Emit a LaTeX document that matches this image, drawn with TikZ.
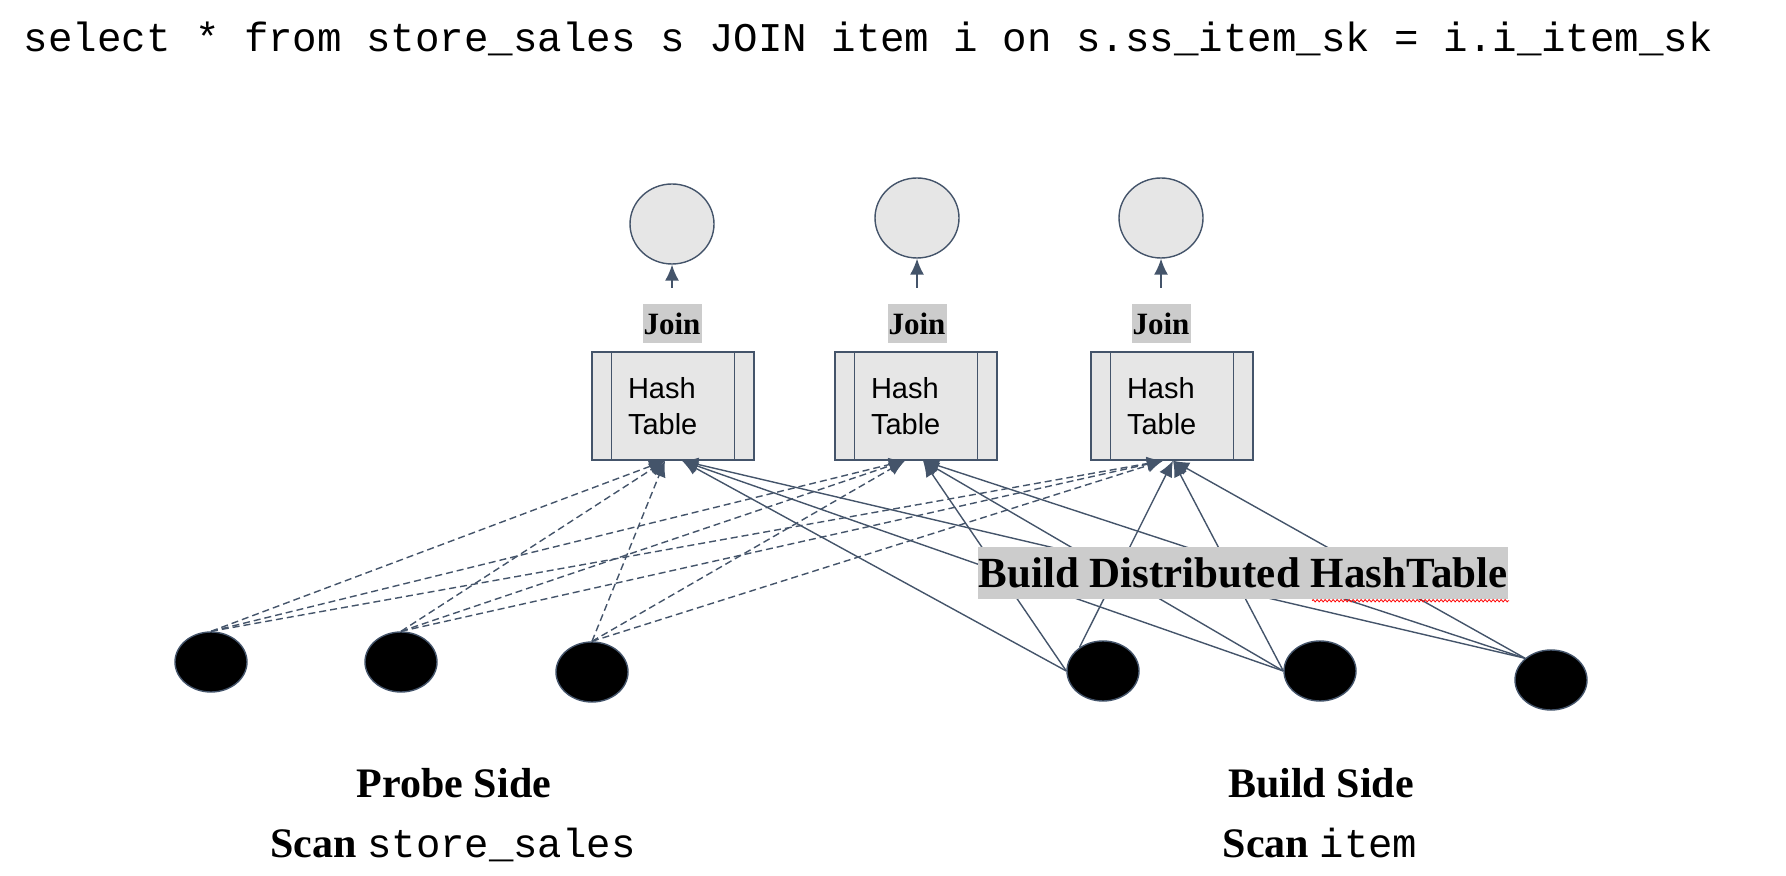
\documentclass[tikz,border=0pt]{standalone}
\usepackage{fontspec}
\setmainfont{Liberation Serif}
\setsansfont{Liberation Sans}
\setmonofont{Liberation Mono}
\usetikzlibrary{shapes.geometric,arrows.meta,decorations.pathmorphing}
\definecolor{slate}{HTML}{44546A}
\definecolor{lightfill}{HTML}{E6E6E6}
\definecolor{labelgray}{HTML}{CCCCCC}

\begin{document}
\begin{tikzpicture}[x=0.5pt, y=-0.5pt, line width=0.7pt,
    out node/.style={ellipse,draw=slate,fill=lightfill,minimum width=42pt,minimum height=40pt,inner sep=0pt},
    join label/.style={fill=labelgray,font=\fontsize{15.5}{18}\selectfont\bfseries,minimum width=29.5pt,minimum height=19.5pt,inner sep=0.5pt},
    hash node/.style={rectangle,draw=slate,fill=lightfill,minimum height=54pt,text width=45pt,inner xsep=18pt,inner ysep=0pt,align=left,font=\fontsize{14.5}{18}\sffamily},
    scan node/.style={ellipse,draw=slate,fill=black,minimum width=36pt,minimum height=30pt,inner sep=0pt},
    probe edge/.style={draw=slate,dash pattern=on 3.5pt off 2pt,-{Latex[length=8pt,width=7pt]}},
    build edge/.style={draw=slate,-{Latex[length=8pt,width=7pt]}},
    side label/.style={font=\fontsize{21}{24}\selectfont\bfseries,inner sep=0pt,anchor=base}]

  \useasboundingbox (0,0) rectangle (1786,876);

  \node[anchor=base west,inner sep=0pt,font=\fontsize{20.4}{24}\selectfont\ttfamily] (query) at (23,52)
    {select * from store\_sales s JOIN item i on s.ss\_item\_sk = i.i\_item\_sk};

  % join outputs
  \node[out node] (c1) at (672,224) {};
  \node[out node] (c2) at (917,218) {};
  \node[out node] (c3) at (1161,218) {};

  \node[join label] (j1) at (672,324) {Join};
  \node[join label] (j2) at (917,324) {Join};
  \node[join label] (j3) at (1161,324) {Join};

  \node[hash node] (h1) at (673,406) {Hash\\Table};
  \node[hash node] (h2) at (916,406) {Hash\\Table};
  \node[hash node] (h3) at (1172,406) {Hash\\Table};

  \foreach \n in {1,2,3} {
    \draw[slate] ([xshift=10pt]h\n.north west) -- ([xshift=10pt]h\n.south west);
    \draw[slate] ([xshift=-10pt]h\n.north east) -- ([xshift=-10pt]h\n.south east);
    \draw[build edge] ([yshift=8pt]j\n.north) -- (c\n);
  }

  % scan nodes
  \node[scan node] (p1) at (211,662) {};
  \node[scan node] (p2) at (401,662) {};
  \node[scan node] (p3) at (592,672) {};
  \node[scan node] (b1) at (1103,671) {};
  \node[scan node] (b2) at (1320,671) {};
  \node[scan node] (b3) at (1551,680) {};

  \path
    (p1.north) edge[probe edge] ([xshift=-4pt]h1.south)
    (p1.north) edge[probe edge] ([xshift=-5.5pt]h2.south)
    (p1.north) edge[probe edge] ([xshift=-4.5pt]h3.south)
    (p2.north) edge[probe edge] ([xshift=-4pt]h1.south)
    (p2.north) edge[probe edge] ([xshift=-5.5pt]h2.south)
    (p2.north) edge[probe edge] ([xshift=-4.5pt]h3.south)
    (p3.north) edge[probe edge] ([xshift=-4pt]h1.south)
    (p3.north) edge[probe edge] ([xshift=-5.5pt]h2.south)
    (p3.north) edge[probe edge] ([xshift=-4.5pt]h3.south)

    (b1.west) edge[build edge] ([xshift=4.5pt]h1.south)
    (b1.west) edge[build edge] ([xshift=3.5pt]h2.south)
    (b1.135) edge[build edge] ([xshift=0.5pt]h3.south)
    (b2.west) edge[build edge] ([xshift=4.5pt]h1.south)
    (b2.west) edge[build edge] ([xshift=3.5pt]h2.south)
    (b2.west) edge[build edge] ([xshift=0.5pt]h3.south)
    (b3.140) edge[build edge] ([xshift=4.5pt]h1.south)
    (b3.140) edge[build edge] ([xshift=3.5pt]h2.south)
    (b3.140) edge[build edge] ([xshift=0.5pt]h3.south);

  \node[fill=labelgray,font=\fontsize{21.5}{24}\selectfont\bfseries,inner xsep=0.5pt,inner ysep=0pt,minimum height=26pt] (bdh) at (1243,573) {Build Distributed HashTable};
  \draw[red,line width=0.4pt,decorate,decoration={zigzag,amplitude=0.6pt,segment length=2pt}]
    ([xshift=-98.5pt,yshift=-0.5pt]bdh.south east) -- ([yshift=-0.5pt]bdh.south east);

  \node[side label] (probe) at (454,797) {Probe Side};
  \node[side label] (probescan) at (453,857) {Scan {\mdseries\ttfamily\fontsize{20.3}{24}\selectfont store\_sales}};
  \node[side label] (build) at (1321,797) {Build Side};
  \node[side label] (buildscan) at (1320,857) {Scan {\mdseries\ttfamily\fontsize{20.3}{24}\selectfont item}};

\end{tikzpicture}
\end{document}
